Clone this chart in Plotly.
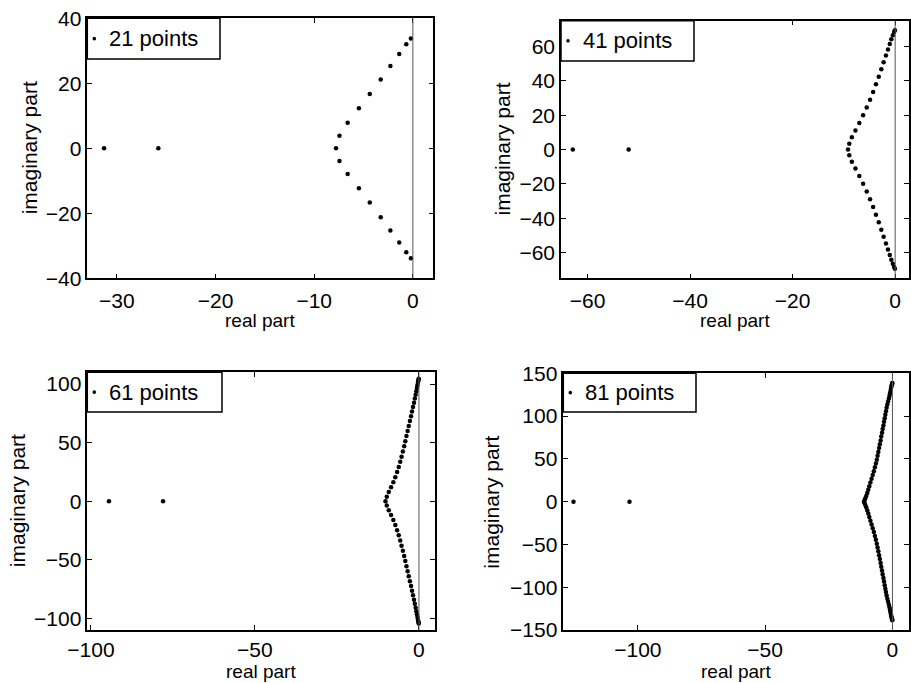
import plotly.graph_objects as go

# ---------------- data ----------------
labels = ["21 points", "41 points", "61 points", "81 points"]

re_21 = [-31.3, -25.8,
         -0.2, -0.67, -1.38, -2.28, -3.26, -4.37, -5.47, -6.61, -7.44,
         -7.79,
         -7.44, -6.61, -5.47, -4.37, -3.26, -2.28, -1.38, -0.67, -0.2]
im_21 = [0, 0,
         33.8, 32.0, 29.0, 25.3, 21.2, 16.7, 12.3, 7.9, 3.9,
         0,
         -3.9, -7.9, -12.3, -16.7, -21.2, -25.3, -29.0, -32.0, -33.8]

re_41 = [-62.9, -52.0,
         -0.05, -0.2, -0.45, -0.75, -1.05, -1.4, -1.8, -2.25, -2.7, -3.2,
         -3.75, -4.3, -4.9, -5.55, -6.25, -7.0, -7.75, -8.45, -8.95,
         -9.2,
         -8.95, -8.45, -7.75, -7.0, -6.25, -5.55, -4.9, -4.3, -3.75, -3.2,
         -2.7, -2.25, -1.8, -1.4, -1.05, -0.75, -0.45, -0.2, -0.05]
im_41 = [0, 0,
         69.5, 68.4, 66.6, 64.2, 61.4, 58.2, 54.7, 50.8, 46.7, 42.4,
         38.0, 33.5, 29.0, 24.4, 19.9, 15.4, 11.1, 7.1, 3.4,
         0,
         -3.4, -7.1, -11.1, -15.4, -19.9, -24.4, -29.0, -33.5, -38.0, -42.4,
         -46.7, -50.8, -54.7, -58.2, -61.4, -64.2, -66.6, -68.4, -69.5]

re_61 = [-94.5, -78.0,
         -0.05, -0.1, -0.2, -0.3, -0.45, -0.6, -0.8, -1.0, -1.25, -1.5,
         -1.8, -2.1, -2.4, -2.75, -3.1, -3.45, -3.8, -4.15, -4.5, -4.9,
         -5.3, -5.7, -6.15, -6.65, -7.2, -7.8, -8.5, -9.2, -9.8,
         -10.2,
         -9.8, -9.2, -8.5, -7.8, -7.2, -6.65, -6.15, -5.7, -5.3, -4.9,
         -4.5, -4.15, -3.8, -3.45, -3.1, -2.75, -2.4, -2.1, -1.8, -1.5,
         -1.25, -1.0, -0.8, -0.6, -0.45, -0.3, -0.2, -0.1, -0.05]
im_61 = [0, 0,
         104.5, 103.8, 102.6, 101.0, 99.0, 96.6, 93.9, 90.9, 87.6, 84.1,
         80.4, 76.5, 72.5, 68.4, 64.2, 59.9, 55.6, 51.2, 46.8, 42.4,
         38.0, 33.6, 29.2, 24.8, 20.4, 16.1, 11.9, 7.8, 3.8,
         0,
         -3.8, -7.8, -11.9, -16.1, -20.4, -24.8, -29.2, -33.6, -38.0, -42.4,
         -46.8, -51.2, -55.6, -59.9, -64.2, -68.4, -72.5, -76.5, -80.4, -84.1,
         -87.6, -90.9, -93.9, -96.6, -99.0, -101.0, -102.6, -103.8, -104.5]

re_81 = [-125.3, -103.3,
         -0.05, -0.1, -0.2, -0.3, -0.45, -0.6, -0.75, -0.95, -1.15, -1.4,
         -1.7, -2.0, -2.3, -2.55, -2.8, -3.05, -3.3, -3.55, -3.85, -4.1,
         -4.4, -4.65, -4.95, -5.25, -5.55, -5.85, -6.15, -6.5, -6.9, -7.3,
         -7.75, -8.2, -8.65, -9.1, -9.5, -9.9, -10.3, -10.7, -11.0,
         -11.2,
         -11.0, -10.7, -10.3, -9.9, -9.5, -9.1, -8.65, -8.2, -7.75,
         -7.3, -6.9, -6.5, -6.15, -5.85, -5.55, -5.25, -4.95, -4.65, -4.4,
         -4.1, -3.85, -3.55, -3.3, -3.05, -2.8, -2.55, -2.3, -2.0, -1.7,
         -1.4, -1.15, -0.95, -0.75, -0.6, -0.45, -0.3, -0.2, -0.1, -0.05]
im_81 = [0, 0,
         138.6, 138.0, 137.0, 135.6, 133.9, 131.8, 129.4, 126.7, 123.7, 120.5,
         117.0, 113.4, 109.6, 105.7, 101.7, 97.6, 93.4, 89.1, 84.8, 80.4,
         76.0, 71.6, 67.1, 62.6, 58.1, 53.6, 49.1, 44.6, 40.1, 35.6,
         31.1, 26.7, 22.3, 18.0, 13.8, 10.0, 6.6, 3.6, 1.3,
         0,
         -1.3, -3.6, -6.6, -10.0, -13.8, -18.0, -22.3, -26.7, -31.1,
         -35.6, -40.1, -44.6, -49.1, -53.6, -58.1, -62.6, -67.1, -71.6, -76.0,
         -80.4, -84.8, -89.1, -93.4, -97.6, -101.7, -105.7, -109.6, -113.4, -117.0,
         -120.5, -123.7, -126.7, -129.4, -131.8, -133.9, -135.6, -137.0, -138.0, -138.6]

x_ticks = [[-30, -20, -10, 0], [-60, -40, -20, 0], [-100, -50, 0], [-100, -50, 0]]
y_ticks = [[-40, -20, 0, 20, 40], [-60, -40, -20, 0, 20, 40, 60],
           [-100, -50, 0, 50, 100], [-150, -100, -50, 0, 50, 100, 150]]

# ---------------- layout ----------------
W, H = 911, 683
FONT = "Liberation Sans, Arial, Helvetica, sans-serif"
FS = 21          # tick labels
FS_T = 19        # "real part"
FS_V = 21        # rotated "imaginary part"


def fx(px):
    return px / W


def fy(py):
    return 1 - py / H


# panel boxes in pixels: (left, right, top, bottom)
boxes = [(87.3, 433.3, 18.3, 278.3),
         (561.0, 909.0, 20.7, 278.3),
         (87.3, 435.0, 372.3, 630.0),
         (563.3, 909.0, 373.3, 630.0)]
x_ranges = [[-33.0, 2.07], [-65.2, 2.7], [-101.1, 4.9], [-129.3, 6.5]]
y_ranges = [[-40, 40], [-75, 75], [-110, 110], [-150, 150]]
legend_boxes = [(87.3, 220, 18.3, 59), (561.0, 694, 20.7, 61),
                (87.3, 222, 372.3, 412), (563.3, 696, 373.3, 412)]
ylabel_x = [29, 502, 17, 492]
xlabel_y = [321, 321, 671, 671]
x_standoff = [3, 3, 0, 0]

series = [(re_21, im_21), (re_41, im_41), (re_61, im_61), (re_81, im_81)]

fig = go.Figure()
shapes = []
annotations = []

for i, ((re, im), box) in enumerate(zip(series, boxes)):
    n = "" if i == 0 else str(i + 1)
    fig.add_trace(go.Scatter(
        x=re, y=im, mode="markers", xaxis="x" + n, yaxis="y" + n,
        marker=dict(size=4.5, color="black", line=dict(width=0)),
        showlegend=False, hoverinfo="x+y"))
    l, r, t, b = box
    ax = dict(domain=[fx(l), fx(r)], range=x_ranges[i], tickvals=x_ticks[i],
              ticks="inside", ticklen=5, tickwidth=1, tickcolor="black",
              showline=True, linecolor="black", linewidth=1.5, mirror="ticks",
              showgrid=False, zeroline=False, anchor="y" + n, automargin=False,
              tickfont=dict(family=FONT, size=FS, color="black"),
              ticklabelstandoff=x_standoff[i])
    ay = dict(domain=[fy(b), fy(t)], range=y_ranges[i], tickvals=y_ticks[i],
              ticks="inside", ticklen=5, tickwidth=1, tickcolor="black",
              showline=True, linecolor="black", linewidth=1.5, mirror="ticks",
              showgrid=False, zeroline=False, anchor="x" + n, automargin=False,
              tickfont=dict(family=FONT, size=FS, color="black"))
    fig.update_layout(**{"xaxis" + n: ax, "yaxis" + n: ay})

    # vertical line at real part = 0
    shapes.append(dict(type="line", xref="x" + n, yref="y" + n + " domain",
                       x0=0, x1=0, y0=0, y1=1,
                       line=dict(color="#555555", width=1)))

    # legend box
    lb = legend_boxes[i]
    shapes.append(dict(type="rect", xref="paper", yref="paper",
                       x0=fx(lb[0]), x1=fx(lb[1]), y0=fy(lb[3]), y1=fy(lb[2]),
                       line=dict(color="black", width=1.5), fillcolor="white"))
    cy = (lb[2] + lb[3]) / 2
    dx = lb[0] + 7
    shapes.append(dict(type="circle", xref="paper", yref="paper",
                       x0=fx(dx - 1.8), x1=fx(dx + 1.8),
                       y0=fy(cy + 1.8), y1=fy(cy - 1.8),
                       line=dict(width=0), fillcolor="black"))
    annotations.append(dict(text=labels[i], xref="paper", yref="paper",
                            x=fx(lb[0] + 20), y=fy(cy), xanchor="left",
                            yanchor="middle", showarrow=False,
                            font=dict(family=FONT, size=22, color="black")))

    # axis titles
    annotations.append(dict(text="imaginary part", xref="paper", yref="paper",
                            x=fx(ylabel_x[i]), y=fy((t + b) / 2),
                            xanchor="center", yanchor="middle", textangle=-90,
                            showarrow=False,
                            font=dict(family=FONT, size=FS_V, color="black")))
    annotations.append(dict(text="real part", xref="paper", yref="paper",
                            x=fx((l + r) / 2), y=fy(xlabel_y[i]),
                            xanchor="center", yanchor="middle",
                            showarrow=False,
                            font=dict(family=FONT, size=FS_T, color="black")))

fig.update_layout(width=W, height=H, margin=dict(l=0, r=0, t=0, b=0, autoexpand=False),
                  paper_bgcolor="white", plot_bgcolor="white",
                  shapes=shapes, annotations=annotations,
                  font=dict(family=FONT, color="black"))

fig.write_html("out.html", config={"displayModeBar": False},
               post_script="document.body.style.margin='0';")
